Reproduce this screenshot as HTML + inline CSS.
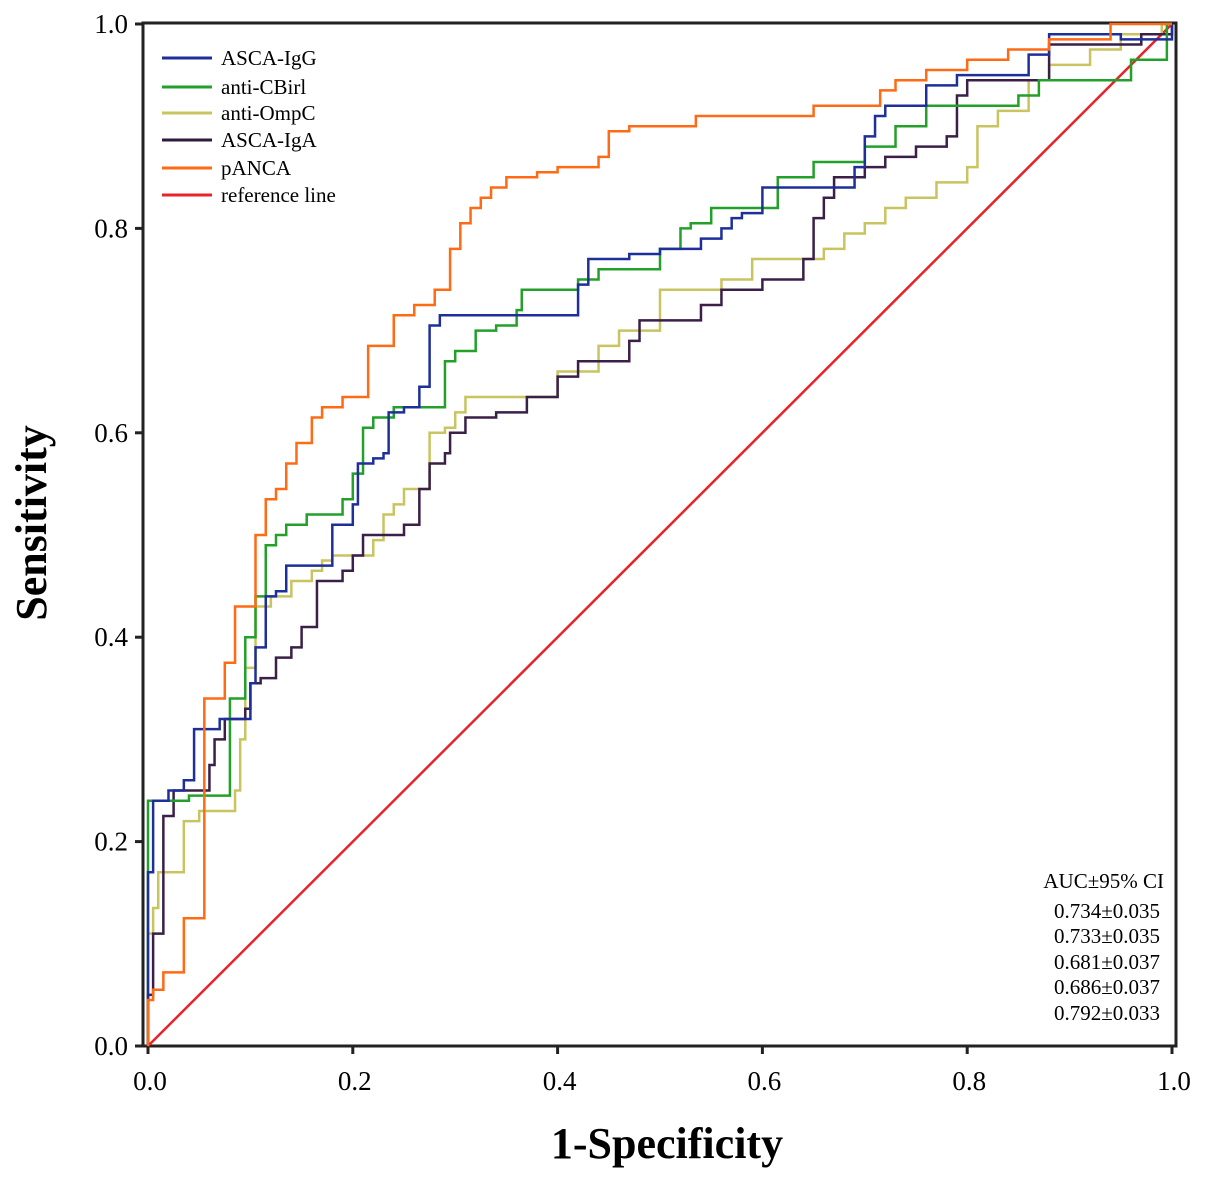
<!DOCTYPE html>
<html><head><meta charset="utf-8"><style>
body{margin:0;background:#fff;}
svg{display:block;font-family:"Liberation Serif",serif;}
</style></head><body>
<svg id="chart" width="1205" height="1180" viewBox="0 0 1205 1180" xmlns="http://www.w3.org/2000/svg">
<rect x="143" y="23" width="1033" height="1023" fill="none" stroke="#222" stroke-width="3"/>
<g id="ticks"></g>
<g id="series"></g>
<text x="667" y="1158" font-size="44" font-weight="bold" text-anchor="middle">1-Specificity</text>
<text transform="translate(46,523) rotate(-90)" font-size="44" font-weight="bold" text-anchor="middle">Sensitivity</text>
<g font-size="21">
<g><line x1="162" y1="58" x2="212" y2="58" stroke="#1f2f9a" stroke-width="3"/><text x="221" y="65">ASCA-IgG</text></g>
<g><line x1="162" y1="87" x2="212" y2="87" stroke="#22a02a" stroke-width="3"/><text x="221" y="94">anti-CBirl</text></g>
<g><line x1="162" y1="113" x2="212" y2="113" stroke="#c8c460" stroke-width="3"/><text x="221" y="120">anti-OmpC</text></g>
<g><line x1="162" y1="140" x2="212" y2="140" stroke="#2e1a3c" stroke-width="3"/><text x="221" y="147">ASCA-IgA</text></g>
<g><line x1="162" y1="168" x2="212" y2="168" stroke="#ff6a14" stroke-width="3"/><text x="221" y="175">pANCA</text></g>
<g><line x1="162" y1="195" x2="212" y2="195" stroke="#e8232a" stroke-width="3"/><text x="221" y="202">reference line</text></g>
</g>
<g font-size="21" text-anchor="end">
<text x="1164" y="888">AUC±95% CI</text>
<text x="1160" y="918">0.734±0.035</text>
<text x="1160" y="943">0.733±0.035</text>
<text x="1160" y="969">0.681±0.037</text>
<text x="1160" y="994">0.686±0.037</text>
<text x="1160" y="1020">0.792±0.033</text>
</g>
</svg>
<script>
const tickVals=[0,0.2,0.4,0.6,0.8,1.0];
const tickLabels=["0.0","0.2","0.4","0.6","0.8","1.0"];
const ascaIgG=[[0,0.17],[0.005,0.24],[0.02,0.25],[0.035,0.26],[0.045,0.31],[0.07,0.32],[0.1,0.355],[0.105,0.39],[0.115,0.44],[0.125,0.445],[0.135,0.47],[0.17,0.47],[0.18,0.51],[0.2,0.53],[0.205,0.57],[0.22,0.575],[0.23,0.58],[0.235,0.62],[0.25,0.625],[0.265,0.645],[0.275,0.705],[0.285,0.715],[0.42,0.745],[0.43,0.77],[0.47,0.775],[0.5,0.78],[0.54,0.79],[0.56,0.8],[0.57,0.81],[0.58,0.815],[0.6,0.84],[0.66,0.84],[0.69,0.86],[0.7,0.89],[0.71,0.91],[0.72,0.92],[0.76,0.94],[0.79,0.95],[0.86,0.97],[0.88,0.99],[0.92,0.99],[0.95,0.985],[1.0,1.0]];
const antiCBirl=[[0,0.24],[0.04,0.245],[0.08,0.34],[0.095,0.4],[0.105,0.44],[0.115,0.49],[0.125,0.5],[0.135,0.51],[0.155,0.52],[0.19,0.535],[0.2,0.56],[0.21,0.605],[0.22,0.615],[0.24,0.625],[0.29,0.67],[0.3,0.68],[0.32,0.7],[0.34,0.705],[0.36,0.72],[0.365,0.74],[0.42,0.75],[0.44,0.76],[0.5,0.78],[0.52,0.8],[0.53,0.805],[0.55,0.82],[0.58,0.82],[0.615,0.85],[0.65,0.865],[0.7,0.88],[0.73,0.9],[0.76,0.92],[0.8,0.92],[0.85,0.93],[0.87,0.945],[0.96,0.965],[0.995,1.0]];
const antiOmpC=[[0,0.11],[0.005,0.135],[0.01,0.17],[0.035,0.22],[0.05,0.23],[0.085,0.25],[0.09,0.3],[0.095,0.37],[0.105,0.43],[0.12,0.44],[0.14,0.455],[0.16,0.465],[0.17,0.475],[0.18,0.48],[0.22,0.495],[0.23,0.52],[0.24,0.53],[0.25,0.545],[0.275,0.6],[0.29,0.605],[0.3,0.62],[0.31,0.635],[0.35,0.635],[0.4,0.66],[0.44,0.685],[0.46,0.7],[0.5,0.74],[0.56,0.75],[0.59,0.77],[0.62,0.77],[0.66,0.78],[0.68,0.795],[0.7,0.805],[0.72,0.82],[0.74,0.83],[0.77,0.845],[0.8,0.86],[0.81,0.9],[0.83,0.915],[0.86,0.945],[0.88,0.96],[0.92,0.975],[0.95,0.99],[0.99,1.0]];
const ascaIgA=[[0,0.05],[0.005,0.11],[0.015,0.225],[0.025,0.25],[0.06,0.275],[0.065,0.3],[0.075,0.32],[0.095,0.33],[0.1,0.355],[0.11,0.36],[0.125,0.38],[0.14,0.39],[0.15,0.41],[0.165,0.455],[0.19,0.465],[0.2,0.48],[0.21,0.5],[0.25,0.51],[0.265,0.545],[0.275,0.57],[0.29,0.58],[0.295,0.6],[0.31,0.615],[0.34,0.62],[0.37,0.635],[0.4,0.655],[0.42,0.67],[0.44,0.67],[0.47,0.69],[0.48,0.71],[0.54,0.725],[0.56,0.74],[0.6,0.75],[0.64,0.77],[0.65,0.81],[0.66,0.83],[0.67,0.85],[0.7,0.86],[0.72,0.87],[0.75,0.88],[0.78,0.89],[0.79,0.93],[0.8,0.945],[0.87,0.945],[0.88,0.98],[0.97,0.99],[1.0,1.0]];
const pANCA=[[0,0.045],[0.005,0.055],[0.015,0.072],[0.035,0.125],[0.055,0.34],[0.075,0.375],[0.085,0.43],[0.105,0.5],[0.115,0.535],[0.125,0.545],[0.135,0.57],[0.145,0.59],[0.16,0.615],[0.17,0.625],[0.19,0.635],[0.215,0.685],[0.24,0.715],[0.26,0.725],[0.28,0.74],[0.295,0.78],[0.305,0.805],[0.315,0.82],[0.325,0.83],[0.335,0.84],[0.35,0.85],[0.38,0.855],[0.4,0.86],[0.44,0.87],[0.45,0.895],[0.47,0.9],[0.535,0.91],[0.65,0.92],[0.715,0.935],[0.73,0.945],[0.76,0.955],[0.8,0.965],[0.84,0.975],[0.88,0.985],[0.94,1.0],[1.0,1.0]];
const NS="http://www.w3.org/2000/svg";
function sx(v){return 148+1024*v;}
function sy(v){return 1046-1022*v;}
const tg=document.getElementById('ticks');
tickVals.forEach((v,i)=>{
  let l=document.createElementNS(NS,'line');
  l.setAttribute('x1',sx(v));l.setAttribute('x2',sx(v));l.setAttribute('y1',1046);l.setAttribute('y2',1054);
  l.setAttribute('stroke','#222');l.setAttribute('stroke-width','3');
  
  
  tg.appendChild(l);
  let t=document.createElementNS(NS,'text');
  t.setAttribute('x',sx(v)+2);t.setAttribute('y',1090);t.setAttribute('font-size','27');t.setAttribute('text-anchor','middle');
  t.textContent=tickLabels[i];
  
  
  tg.appendChild(t);
  let l2=document.createElementNS(NS,'line');
  l2.setAttribute('x1',135);l2.setAttribute('x2',143);l2.setAttribute('y1',sy(v));l2.setAttribute('y2',sy(v));
  l2.setAttribute('stroke','#222');l2.setAttribute('stroke-width','3');
  
  
  tg.appendChild(l2);
  let t2=document.createElementNS(NS,'text');
  t2.setAttribute('x',128);t2.setAttribute('y',sy(v)+9);t2.setAttribute('font-size','27');t2.setAttribute('text-anchor','end');
  t2.textContent=tickLabels[i];
  
  
  tg.appendChild(t2);
});
const sg=document.getElementById('series');
let ref=document.createElementNS(NS,'line');
ref.setAttribute('x1',sx(0));ref.setAttribute('y1',sy(0));ref.setAttribute('x2',sx(1));ref.setAttribute('y2',sy(1));
ref.setAttribute('stroke','#e8232a');ref.setAttribute('stroke-width','2.5');


sg.appendChild(ref);
function stepPath(pts){
  let d='M'+sx(0)+','+sy(0);
  pts.forEach(p=>{d+=' H'+sx(p[0])+' V'+sy(p[1]);});
  d+=' H'+sx(1);
  return d;
}
function addCurve(pts,color,name){
  let p=document.createElementNS(NS,'path');
  p.setAttribute('d',stepPath(pts));p.setAttribute('fill','none');p.setAttribute('stroke',color);p.setAttribute('stroke-width','2.5');
  
  
  sg.appendChild(p);
}
addCurve(antiOmpC,'#c8c460','curve-anti-ompc');
addCurve(ascaIgA,'#3a1f48','curve-asca-iga');
addCurve(antiCBirl,'#22a02a','curve-anti-cbirl');
addCurve(ascaIgG,'#1f2f9a','curve-asca-igg');
addCurve(pANCA,'#ff6a14','curve-panca');
</script>
</body></html>
